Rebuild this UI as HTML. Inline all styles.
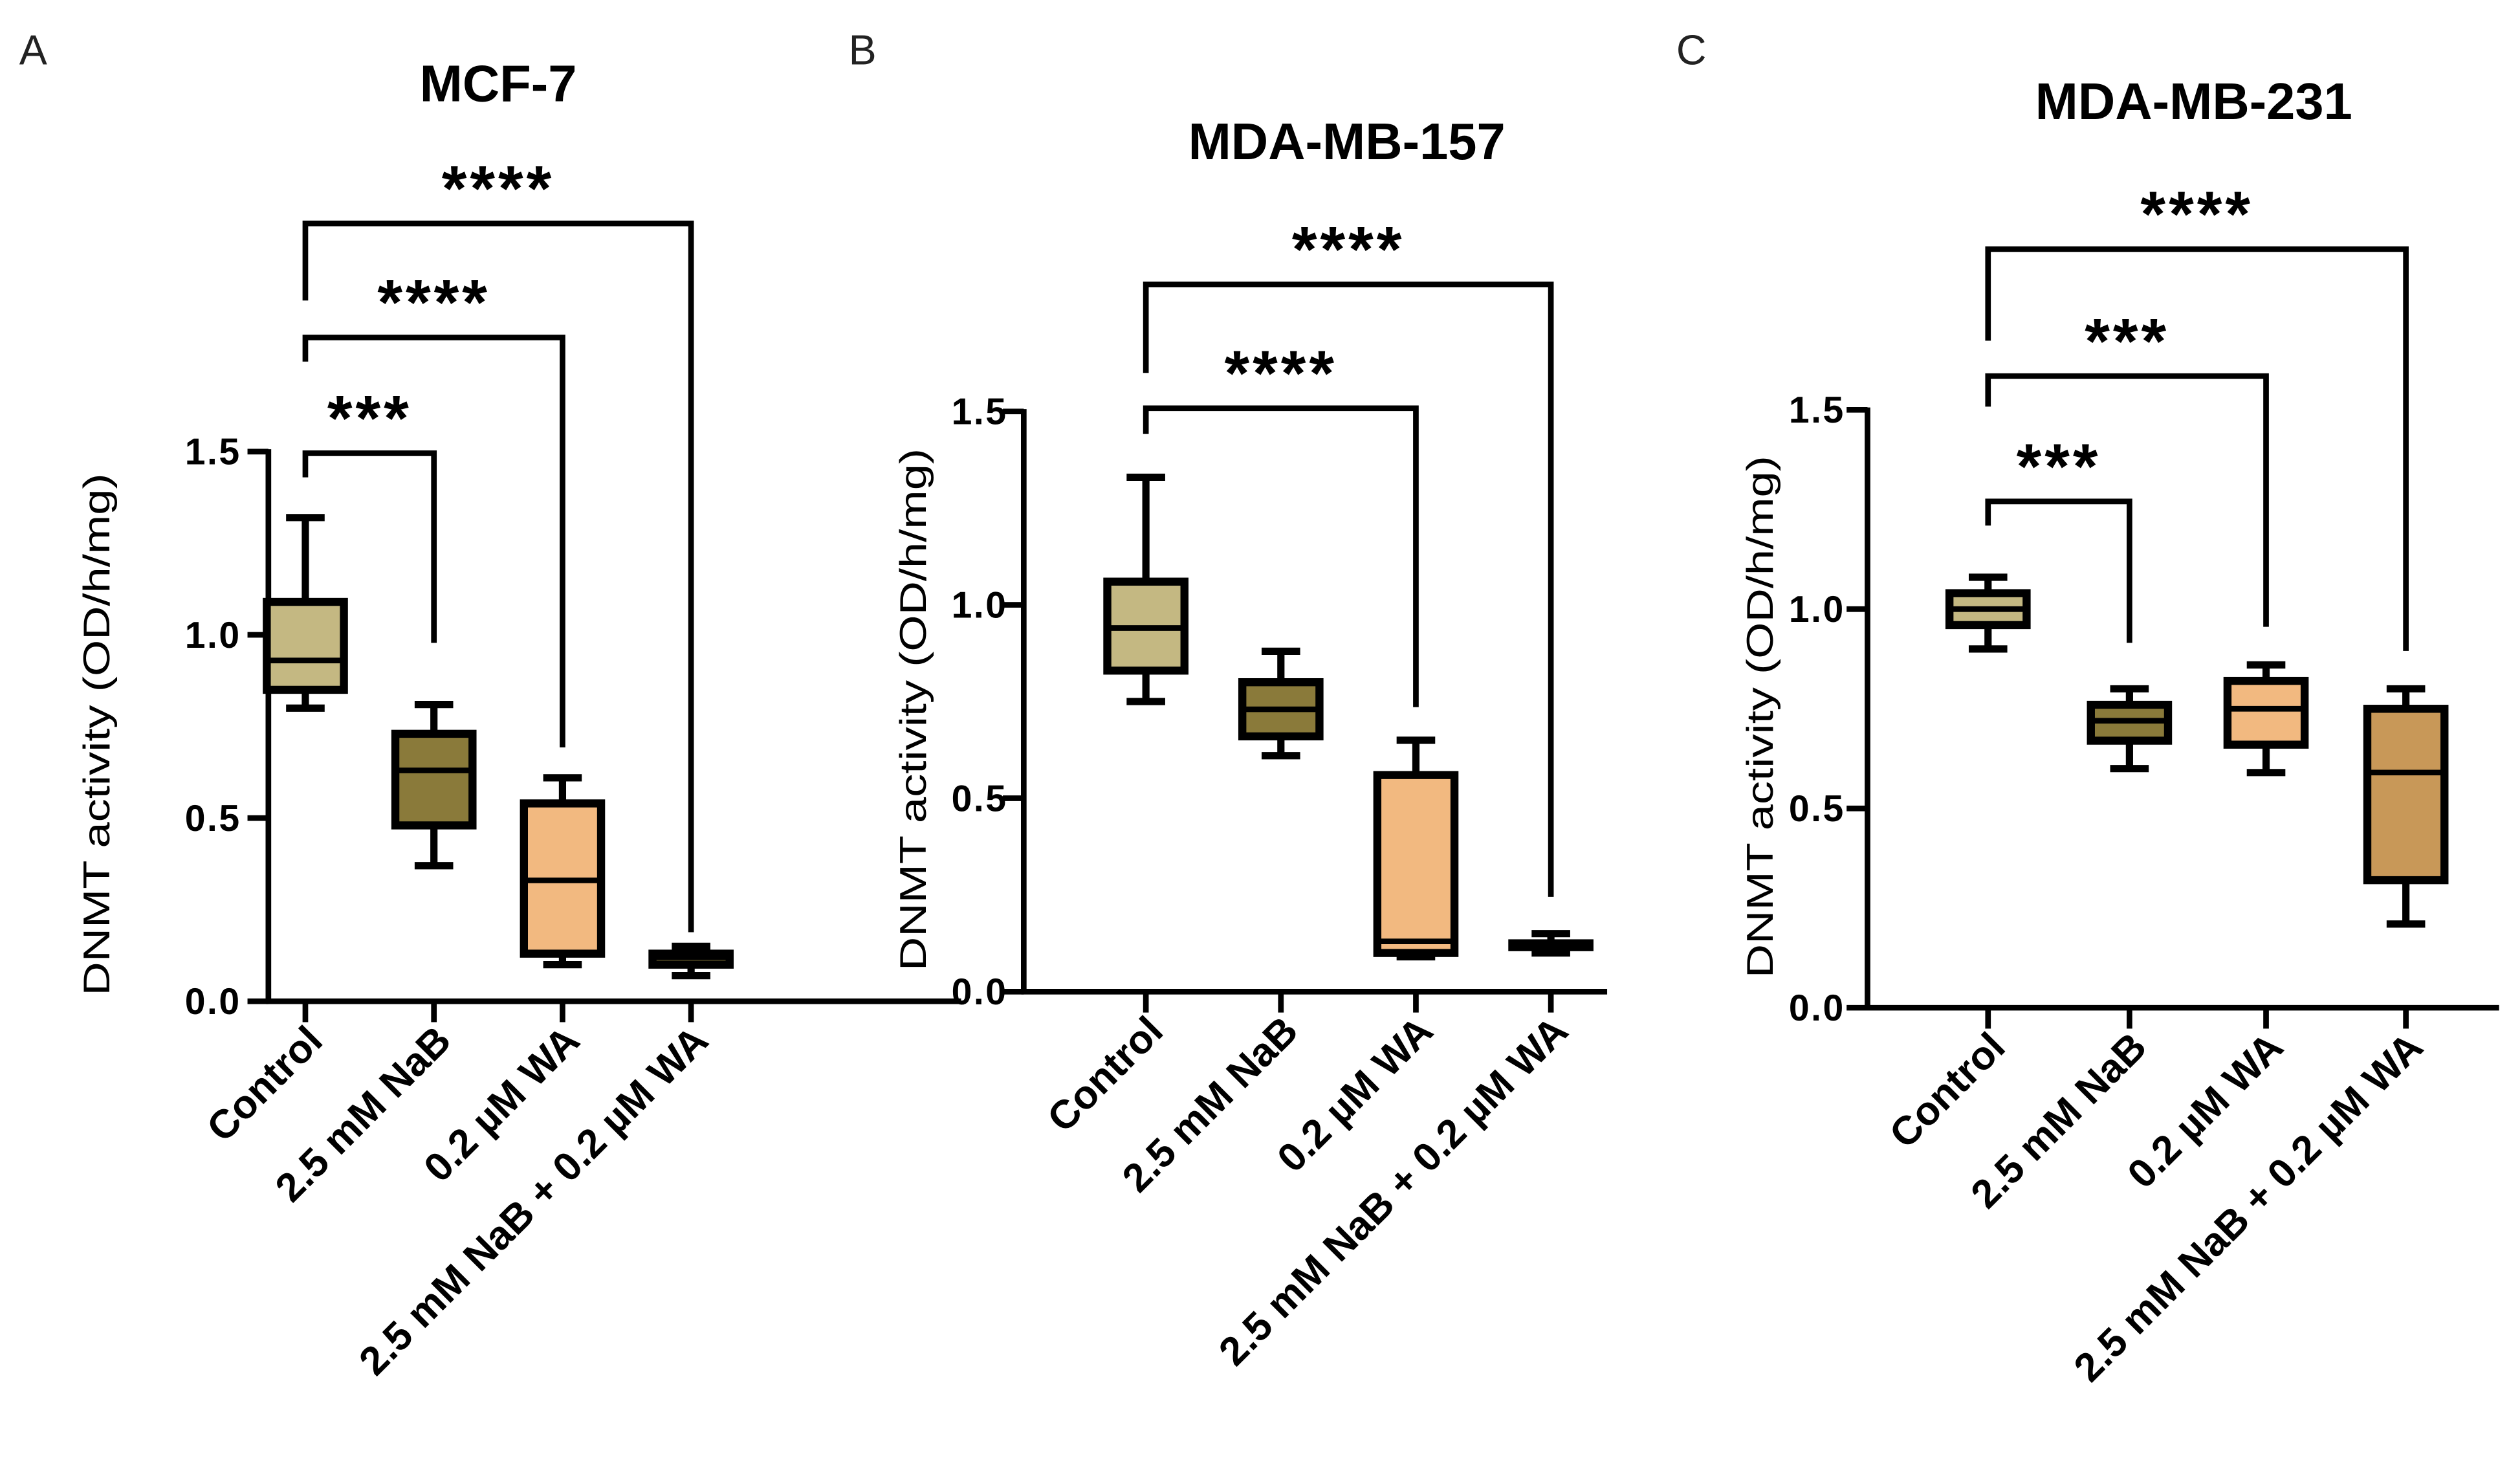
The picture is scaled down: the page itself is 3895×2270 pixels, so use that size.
<!DOCTYPE html>
<html><head><meta charset="utf-8"><style>
html,body{margin:0;padding:0;background:#fff;}
svg{display:block;}
</style></head><body>
<svg id="fig" width="3895" height="2270" viewBox="0 0 1568 914" preserveAspectRatio="none" xmlns="http://www.w3.org/2000/svg" font-family="'Liberation Sans', sans-serif">
<rect width="1568" height="914" fill="#fff"/>
</svg>
<script>
// Shared categories
const categories = ["Control", "2.5 mM NaB", "0.2 µM WA", "2.5 mM NaB + 0.2 µM WA"];
const yTicks = [0, 0.5, 1.0, 1.5];
const yTickLabels = ["0.0", "0.5", "1.0", "1.5"];

// Panel A: MCF-7 [min, q1, median, q3, max]
const mcfMin = [0.80, 0.37, 0.10, 0.07];
const mcfQ1 = [0.85, 0.48, 0.13, 0.10];
const mcfMed = [0.93, 0.63, 0.33, 0.12];
const mcfQ3 = [1.09, 0.73, 0.54, 0.13];
const mcfMax = [1.32, 0.81, 0.61, 0.15];
const mcfSig = ["***", "****", "****"];
const mcfSigTo = [1, 2, 3];

// Panel B: MDA-MB-157
const m157Min = [0.75, 0.61, 0.09, 0.10];
const m157Q1 = [0.83, 0.66, 0.10, 0.115];
const m157Med = [0.94, 0.73, 0.13, 0.12];
const m157Q3 = [1.06, 0.80, 0.56, 0.125];
const m157Max = [1.33, 0.88, 0.65, 0.15];
const m157Sig = ["****", "****"];
const m157SigTo = [2, 3];

// Panel C: MDA-MB-231
const m231Min = [0.90, 0.60, 0.59, 0.21];
const m231Q1 = [0.96, 0.67, 0.66, 0.32];
const m231Med = [1.00, 0.72, 0.75, 0.59];
const m231Q3 = [1.04, 0.76, 0.82, 0.75];
const m231Max = [1.08, 0.80, 0.86, 0.80];
const m231Sig = ["***", "***", "****"];
const m231SigTo = [1, 2, 3];

const NS = "http://www.w3.org/2000/svg";
const svg = document.getElementById("fig");
function mk(tag, attrs, parent) {
  const e = document.createElementNS(NS, tag);
  for (const k in attrs) e.setAttribute(k, attrs[k]);
  (parent || svg).appendChild(e);
  return e;
}

const panels = [
  {id:"a", letter:"A", lx:12, title:"MCF-7", tx:310, ty:63, ax:167, y0:623, y15:281, xEnd:598, cx:[190,270,350,430],
   mins:mcfMin,q1:mcfQ1,med:mcfMed,q3:mcfQ3,maxs:mcfMax,sig:mcfSig,sigTo:mcfSigTo,
   brY:[282,210,139], legTop:[297,225,187], rightEnd:[400,465,580], ytx:60, lblOff:17,
   fills:["#c4b882","#8a7a3a","#f2b980","#8a7a3a"]},
  {id:"b", letter:"B", lx:528, title:"MDA-MB-157", tx:838, ty:99, ax:637, y0:617, y15:256, xEnd:1000, cx:[713,797,881,965],
   mins:m157Min,q1:m157Q1,med:m157Med,q3:m157Q3,maxs:m157Max,sig:m157Sig,sigTo:m157SigTo,
   brY:[254,177], legTop:[270,232], rightEnd:[440,558], ytx:568, lblOff:10,
   fills:["#c4b882","#8a7a3a","#f2b980","#8a7a3a"]},
  {id:"c", letter:"C", lx:1043, title:"MDA-MB-231", tx:1365, ty:74, ax:1162, y0:627, y15:255, xEnd:1555, cx:[1237,1325,1410,1497],
   mins:m231Min,q1:m231Q1,med:m231Med,q3:m231Q3,maxs:m231Max,sig:m231Sig,sigTo:m231SigTo,
   brY:[312,234,155], legTop:[327,253,212], rightEnd:[400,390,405], ytx:1095, lblOff:14,
   fills:["#c4b882","#8a7a3a","#f2b980","#c89858"]}
];

panels.forEach(p => {
  const g = mk("g", {});
  
  
  const ys = v => p.y0 - (v / 1.5) * (p.y0 - p.y15);

  const pl = mk("text", {x:p.lx, y:40, "font-size":26, fill:"#222"}, g);
  pl.textContent = p.letter;
  
  

  const t = mk("text", {x:p.tx, y:p.ty, "font-size":32, "font-weight":"bold", "text-anchor":"middle"}, g);
  t.textContent = p.title;
  
  

  const ya = mk("line", {x1:p.ax, y1:ys(1.5)-1.5, x2:p.ax, y2:p.y0+1.5, stroke:"#000", "stroke-width":3.5}, g);
  
  
  const xa = mk("line", {x1:p.ax-1.5, y1:p.y0, x2:p.xEnd, y2:p.y0, stroke:"#000", "stroke-width":3.5}, g);
  
  

  yTicks.forEach((v, i) => {
    const y = ys(v);
    const tk = mk("line", {x1:p.ax-13, y1:y, x2:p.ax, y2:y, stroke:"#000", "stroke-width":3.5}, g);
    
    
    const tl = mk("text", {x:p.ax-p.lblOff, y:y+8, "font-size":23, "font-weight":"bold", "text-anchor":"end", "letter-spacing":"1"}, g);
    tl.textContent = yTickLabels[i];
    
    
  });

  const yt = mk("text", {x:0, y:0, "font-size":23, "text-anchor":"middle", textLength:325, lengthAdjust:"spacingAndGlyphs", transform:`translate(${p.ytx+8},${(p.y0+ys(1.5))/2+5}) rotate(-90)`}, g);
  yt.textContent = "DNMT activity (OD/h/mg)";
  
  

  categories.forEach((c, i) => {
    const x = p.cx[i];
    const tk = mk("line", {x1:x, y1:p.y0, x2:x, y2:p.y0+13, stroke:"#000", "stroke-width":3.5}, g);
    
    
    const tl = mk("text", {x:0, y:0, "font-size":25, "font-weight":"bold", "text-anchor":"end", transform:`translate(${x+12},${p.y0+26}) rotate(-45)`}, g);
    tl.textContent = c;
    
    

    const hw = 24, cw = 12;
    const bg = mk("g", {}, g);
    
    
    mk("line", {x1:x, y1:ys(p.maxs[i]), x2:x, y2:ys(p.q3[i]), stroke:"#000", "stroke-width":4.5}, bg);
    mk("line", {x1:x, y1:ys(p.q1[i]), x2:x, y2:ys(p.mins[i]), stroke:"#000", "stroke-width":4.5}, bg);
    mk("line", {x1:x-cw, y1:ys(p.maxs[i]), x2:x+cw, y2:ys(p.maxs[i]), stroke:"#000", "stroke-width":4.5}, bg);
    mk("line", {x1:x-cw, y1:ys(p.mins[i]), x2:x+cw, y2:ys(p.mins[i]), stroke:"#000", "stroke-width":4.5}, bg);
    mk("rect", {x:x-hw, y:ys(p.q3[i]), width:2*hw, height:Math.max(ys(p.q1[i])-ys(p.q3[i]),1), fill:p.fills[i], stroke:"#000", "stroke-width":5}, bg);
    mk("line", {x1:x-hw, y1:ys(p.med[i]), x2:x+hw, y2:ys(p.med[i]), stroke:"#000", "stroke-width":3.5}, bg);
  });

  p.sig.forEach((s, k) => {
    const x1 = p.cx[0], x2 = p.cx[p.sigTo[k]], by = p.brY[k];
    const br = mk("polyline", {points:`${x1},${p.legTop[k]} ${x1},${by} ${x2},${by} ${x2},${p.rightEnd[k]}`, fill:"none", stroke:"#000", "stroke-width":3.5}, g);
    
    
    const st = mk("text", {x:(x1+x2)/2, y:by-8, "font-size":40, "font-weight":"bold", "text-anchor":"middle", "letter-spacing":"2"}, g);
    st.textContent = s;
    
    
  });
});
</script>
</body></html>
